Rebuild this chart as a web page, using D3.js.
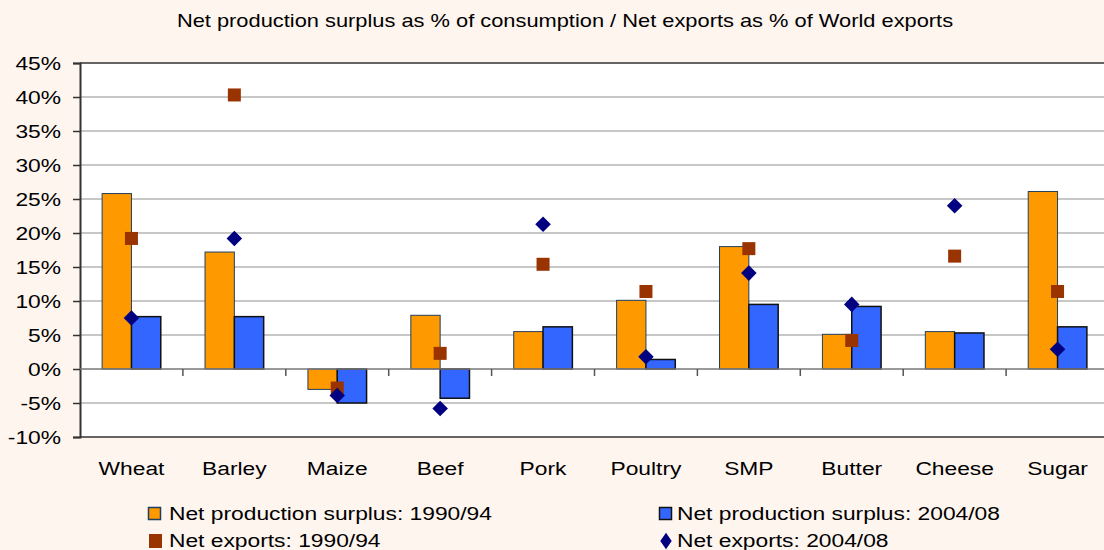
<!DOCTYPE html>
<html>
<head>
<meta charset="utf-8">
<script src="https://cdn.jsdelivr.net/npm/d3@7"></script>
<style>
  body { margin: 0; background: #fef5ef; }
  svg { display: block; }
  text { font-family: "Liberation Sans", Arial, sans-serif; fill: #000; }
</style>
</head>
<body>
<div id="chart"></div>
<script>
const categories = ["Wheat", "Barley", "Maize", "Beef", "Pork", "Poultry", "SMP", "Butter", "Cheese", "Sugar"];
const surplus9094 = [25.8, 17.2, -3.0, 7.9, 5.5, 10.1, 18.0, 5.1, 5.5, 26.1];
const surplus0408 = [7.7, 7.7, -5.0, -4.3, 6.2, 1.4, 9.5, 9.2, 5.3, 6.2];
const exports9094 = [19.2, 40.3, -2.8, 2.3, 15.4, 11.4, 17.7, 4.2, 16.6, 11.4];
const exports0408 = [7.5, 19.2, -3.9, -5.8, 21.3, 1.8, 14.1, 9.5, 24.0, 2.9];
const yTicks = [-10, -5, 0, 5, 10, 15, 20, 25, 30, 35, 40, 45];
const title = "Net production surplus as % of consumption / Net exports as % of World exports";

const width = 1104, height = 550;
const plotL = 80, plotR = 1109, plotT = 63, plotB = 437;
const sx = 1.2; // the picture's text is a bit wide

const svg = d3.select("#chart").append("svg")
  .attr("width", width).attr("height", height);

svg.append("rect").attr("width", width).attr("height", height).attr("fill", "#fef5ef");

const x0 = d3.scaleBand().domain(categories).range([plotL, plotR])
  .paddingInner(0.43).paddingOuter(0.215);
const x1 = d3.scaleBand().domain(["a", "b"]).range([0, x0.bandwidth()]);
const y = d3.scaleLinear().domain([-10, 45]).range([plotB, plotT]);

// wide text helper
const label = (g, tx, ty, s, anchor) =>
  g.append("text")
    .attr("transform", `translate(${tx},${ty}) scale(${sx},1)`)
    .attr("text-anchor", anchor)
    .text(s);

label(svg, 565, 27, title, "middle").style("font-size", "18.2px");

// plot area
svg.append("rect")
  .attr("x", plotL).attr("y", plotT)
  .attr("width", plotR - plotL).attr("height", plotB - plotT)
  .attr("fill", "#fff");

// gridlines
svg.append("g")
  .selectAll("line")
  .data(yTicks.filter(d => d !== 0 && d !== -10 && d !== 45))
  .join("line")
  .attr("x1", plotL).attr("x2", plotR)
  .attr("y1", d => y(d)).attr("y2", d => y(d))
  .attr("stroke", "#b4b4b4").attr("stroke-width", 1.5);

// border top/bottom
svg.append("line").attr("x1", plotL).attr("x2", plotR).attr("y1", plotT).attr("y2", plotT)
  .attr("stroke", "#333").attr("stroke-width", 1.5);
svg.append("line").attr("x1", plotL).attr("x2", plotR).attr("y1", plotB).attr("y2", plotB)
  .attr("stroke", "#333").attr("stroke-width", 1.5);

// y axis
const yAxis = svg.append("g")
  .attr("transform", `translate(${plotL},0)`)
  .call(d3.axisLeft(y).tickValues(yTicks).tickSize(7).tickFormat(() => ""));
yAxis.select(".domain").attr("stroke", "#333").attr("stroke-width", 2);
yAxis.selectAll(".tick line").attr("stroke", "#333").attr("stroke-width", 1.5);
yTicks.forEach(t => {
  label(svg, 61, y(t) + 7, t + "%", "end").style("font-size", "19px");
});

// bars
const groups = svg.append("g")
  .selectAll("g")
  .data(categories)
  .join("g")
  .attr("transform", d => `translate(${x0(d)},0)`);

groups.append("rect")
  .attr("x", x1("a")).attr("width", x1.bandwidth())
  .attr("y", (d, i) => y(Math.max(0, surplus9094[i])))
  .attr("height", (d, i) => Math.abs(y(surplus9094[i]) - y(0)))
  .attr("fill", "#ff9900").attr("stroke", "#1f3f5f").attr("stroke-width", 1);

groups.append("rect")
  .attr("x", x1("b")).attr("width", x1.bandwidth())
  .attr("y", (d, i) => y(Math.max(0, surplus0408[i])))
  .attr("height", (d, i) => Math.abs(y(surplus0408[i]) - y(0)))
  .attr("fill", "#3366ff").attr("stroke", "#111").attr("stroke-width", 1.5);

// zero axis with category boundary ticks
svg.append("line").attr("x1", plotL).attr("x2", plotR).attr("y1", y(0)).attr("y2", y(0))
  .attr("stroke", "#777").attr("stroke-width", 1.5);
svg.append("g")
  .selectAll("line")
  .data(categories.slice(1))
  .join("line")
  .attr("x1", d => x0(d) - x0.step() * x0.paddingInner() / 2)
  .attr("x2", d => x0(d) - x0.step() * x0.paddingInner() / 2)
  .attr("y1", y(0)).attr("y2", y(0) + 7)
  .attr("stroke", "#555").attr("stroke-width", 1.5);

// markers
const cx = d => x0(d) + x0.bandwidth() / 2;
svg.append("g")
  .selectAll("rect")
  .data(categories)
  .join("rect")
  .attr("x", d => cx(d) - 6.5)
  .attr("y", (d, i) => y(exports9094[i]) - 6.5)
  .attr("width", 13).attr("height", 13)
  .attr("fill", "#993300");

const diamond = d3.symbol(d3.symbolSquare, 121);
svg.append("g")
  .selectAll("path")
  .data(categories)
  .join("path")
  .attr("d", diamond)
  .attr("transform", (d, i) => `translate(${cx(d)},${y(exports0408[i])}) rotate(45)`)
  .attr("fill", "#000080");

// x labels
categories.forEach(c => {
  label(svg, cx(c), 475, c, "middle").style("font-size", "19px");
});

// legend
const legend = svg.append("g");
legend.append("rect").attr("x", 148.5).attr("y", 507.5).attr("width", 12).attr("height", 12)
  .attr("fill", "#ff9900").attr("stroke", "#1f3f5f").attr("stroke-width", 1.5);
label(legend, 169, 520, "Net production surplus: 1990/94", "start").style("font-size", "19px");
legend.append("rect").attr("x", 659.5).attr("y", 507.5).attr("width", 12).attr("height", 12)
  .attr("fill", "#3366ff").attr("stroke", "#111").attr("stroke-width", 1.5);
label(legend, 677, 520, "Net production surplus: 2004/08", "start").style("font-size", "19px");
legend.append("rect").attr("x", 149).attr("y", 534).attr("width", 13).attr("height", 14)
  .attr("fill", "#993300");
label(legend, 169, 547, "Net exports: 1990/94", "start").style("font-size", "19px");
legend.append("path").attr("d", d3.symbol(d3.symbolSquare, 81))
  .attr("transform", "translate(666,541) scale(0.9,1.3) rotate(45)")
  .attr("fill", "#000080");
label(legend, 677, 547, "Net exports: 2004/08", "start").style("font-size", "19px");
</script>
</body>
</html>
